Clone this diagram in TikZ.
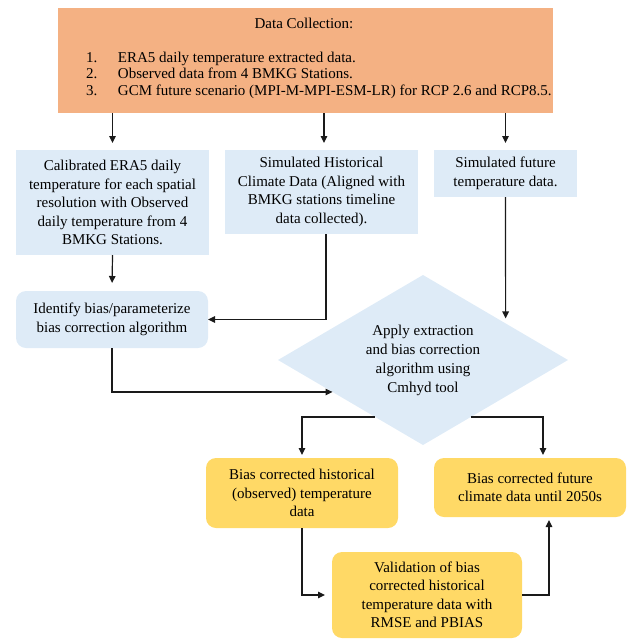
\documentclass[tikz,border=0pt]{standalone}
\usepackage{fontspec}
\setmainfont{Liberation Serif}
\usetikzlibrary{shapes.geometric,arrows.meta,calc}
\definecolor{orangefill}{HTML}{F4B183}
\definecolor{bluefill}{HTML}{DEEBF7}
\definecolor{yellowfill}{HTML}{FFD966}
\definecolor{linecol}{HTML}{1A1A1A}
\begin{document}
\begin{tikzpicture}[x=1pt,y=-1pt,
  base/.style={inner sep=0pt, outer sep=0pt, align=center, font=\fontsize{15}{18.5}\selectfont, text=black},
  orangebox/.style={base, fill=orangefill},
  bluebox/.style={base, fill=bluefill},
  bluerounded/.style={base, fill=bluefill, rounded corners=10pt},
  yellowbox/.style={base, fill=yellowfill, rounded corners=10pt},
  decision/.style={base, diamond, fill=bluefill, aspect=1.7, font=\fontsize{15}{19}\selectfont},
  conn/.style={draw=linecol, line width=1.2pt, -{Triangle[length=7pt,width=6.5pt]}},
]
\useasboundingbox (0,0) rectangle (628,643);

% Data collection
\node[orangebox, minimum width=495pt, minimum height=105pt] (org) at (305.5,60.5) {};
\node[base, anchor=base] (orgtitle) at (304,28) {Data Collection:};
\node[base, anchor=base west] (orgitems) at (86,62) {\fontsize{15}{16.5}\selectfont
  \begin{tabular}[t]{@{}p{32pt}@{}l@{}}
  1. & ERA5 daily temperature extracted data.\\
  2. & Observed data from 4 BMKG Stations.\\
  3. & GCM future scenario (MPI-M-MPI-ESM-LR) for RCP 2.6 and RCP8.5.
  \end{tabular}};

% second row
\node[bluebox, minimum width=193pt, minimum height=105pt] (b1) at (112.5,202.5)
  {Calibrated ERA5 daily\\temperature for each spatial\\resolution with Observed\\daily temperature from 4\\BMKG Stations.};
\node[bluebox, minimum width=193pt, minimum height=84pt] (b2) at (321.5,192)
  {Simulated Historical\\Climate Data (Aligned with\\BMKG stations timeline\\data collected).};
\node[bluebox, minimum width=143pt, minimum height=47pt] (b3) at (505.5,173.5)
  {Simulated future\\temperature data.};

% identify
\node[bluerounded, minimum width=192pt, minimum height=57pt] (idn) at (112,319.5)
  {Identify bias/parameterize\\bias correction algorithm};

% diamond
\node[decision, minimum width=290pt, minimum height=170pt] (dia) at (423,360)
  {Apply extraction\\and bias correction\\algorithm using\\Cmhyd tool};

% outputs
\node[yellowbox, minimum width=192pt, minimum height=70pt] (hist) at (302,493)
  {Bias corrected historical\\(observed) temperature\\data};
\node[yellowbox, minimum width=192pt, minimum height=59pt] (fut) at (530,487.5)
  {Bias corrected future\\climate data until 2050s};
\node[yellowbox, minimum width=190pt, minimum height=86pt] (val) at (427,595)
  {Validation of bias\\corrected historical\\temperature data with\\RMSE and PBIAS};

% connectors
\draw[conn, shorten >=7pt] (b1.north |- org.south) -- (b1.north);
\draw[conn, shorten >=7pt] ($(b2.north |- org.south)+(2.5,0)$) -- ($(b2.north)+(2.5,0)$);
\draw[conn, shorten >=7pt] (b3.north |- org.south) -- (b3.north);
\draw[conn, shorten >=8pt] (b1.south) -- (idn.north);
\draw[conn] ($(b2.south)+(4.5,0)$) |- (idn.east);
\draw[conn, shorten >=5pt] (b3.south) -- ($(dia.north)!0.57!(dia.east)$);
\draw[conn] (idn.south) |- ($(dia.west)!0.376!(dia.south)$);
\draw[conn, shorten >=3pt] ($(dia.south)!0.33!(dia.west)$) -| (hist.north);
\draw[conn, shorten >=3pt] ($(dia.south)!0.33!(dia.east)$) -| ($(fut.north)+(13,0)$);
\draw[conn, shorten >=7pt] (hist.south) |- (val.west);
\draw[conn, shorten >=3pt] (val.east) -| ($(fut.south)+(19,0)$);
\end{tikzpicture}
\end{document}
